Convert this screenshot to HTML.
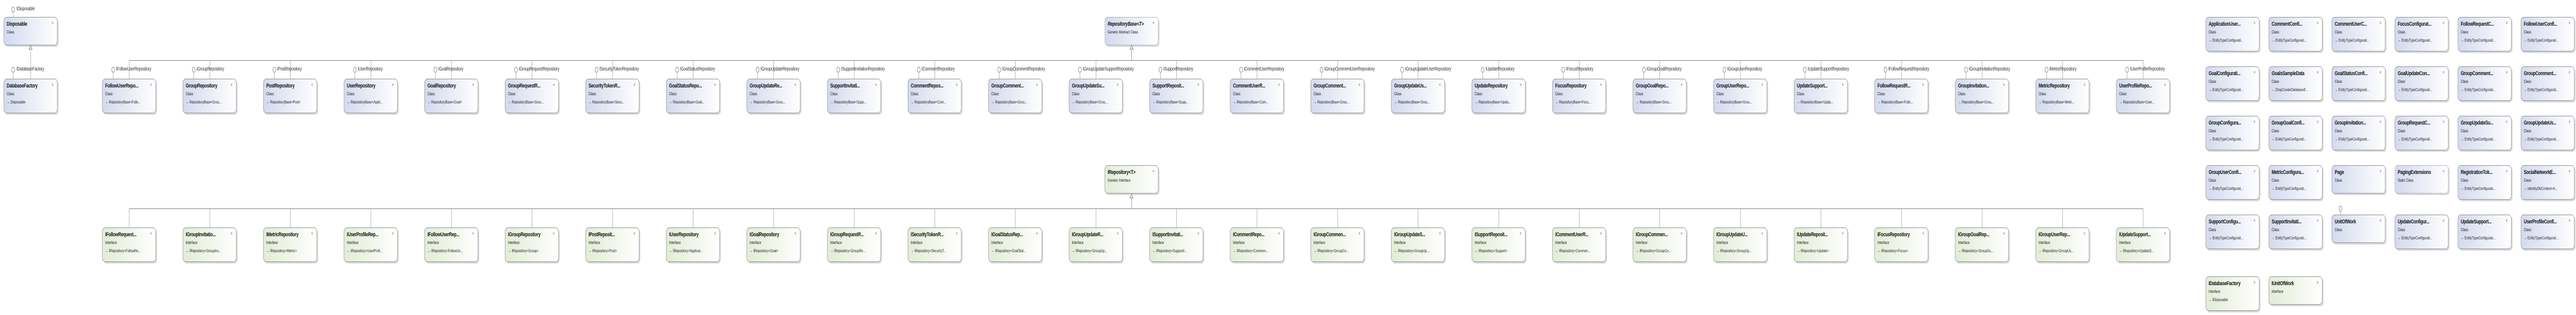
<!DOCTYPE html>
<html><head><meta charset="utf-8"><meta name="viewport" content="width=6907">
<style>
*{margin:0;padding:0}
html,body{width:100%;height:100%;overflow:hidden;background:#fff}
#w{position:absolute;left:0;top:0;width:6907px;height:612px;transform-origin:0 0;font-family:"Liberation Sans",sans-serif;color:#111;overflow:hidden}
.b{position:absolute;width:144px;height:67px;border:1px solid #8c8c8c;border-radius:8px;background:linear-gradient(to right,#d3daee,#ffffff);box-shadow:3px 3px 0 #d9d9d9;box-sizing:border-box}
.b.i{background:linear-gradient(to right,#e2ecd6,#ffffff)}
.b.h{height:55px}
.b.d{border:1.5px dashed #888}
.t{position:absolute;left:7px;top:7px;font-weight:bold;font-size:11px;letter-spacing:-0.4px;white-space:nowrap}
.s{position:absolute;left:7px;top:24px;font-size:8px;font-style:normal;white-space:nowrap}
.r{position:absolute;left:7px;top:40px;font-size:8px;white-space:nowrap;color:#222}
.c{position:absolute;right:9px;top:5px;font-size:10px;color:#777;transform:rotate(90deg);font-style:normal}
.o{position:absolute;top:130px;width:7px;height:9px;border:1px solid #777;border-radius:50%;background:#fff}
.o:after{content:"";position:absolute;left:3px;top:10px;width:1px;height:13px;background:#999}
.l{position:absolute;top:129px;font-size:10px;letter-spacing:-0.3px;color:#333;white-space:nowrap}
.v{position:absolute;width:1px;background:#999}
.hb{position:absolute;height:1px;background:#777}
.ar{position:absolute;width:0;height:0;border-left:5px solid transparent;border-right:5px solid transparent;border-bottom:9px solid #777}
.ar:after{content:"";position:absolute;left:-3px;top:2px;border-left:3px solid transparent;border-right:3px solid transparent;border-bottom:6px solid #fff}
</style></head><body><div id="w">

<div class="o" style="left:31px;top:13px"></div>
<span class="l" style="left:44px;top:12px">IDisposable</span>
<div class="b h" style="left:10px;top:33px"><b class="t">Disposable</b><i class="s">Class</i><em class="c">»</em></div>
<div class="v" style="left:82px;top:96px;height:57px"></div>
<div class="ar" style="left:77px;top:87px"></div>

<div class="o" style="left:31px"></div>
<span class="l" style="left:44px">IDatabaseFactory</span>
<div class="b" style="left:10px;top:153px"><b class="t">DatabaseFactory</b><i class="s">Class</i><span class="r">→ Disposable</span><em class="c">»</em></div>

<div class="b h d" style="left:2962px;top:33px"><b class="t" style="font-style:italic">RepositoryBase&lt;T&gt;</b><i class="s">Generic Abstract Class</i><em class="c">»</em></div>
<div class="v" style="left:3034px;top:96px;height:21px;background:#777"></div>
<div class="ar" style="left:3029px;top:87px"></div>
<div class="hb" style="left:346px;width:5401px;top:117px"></div>

<div class="b h i" style="left:2962px;top:321px"><b class="t">IRepository&lt;T&gt;</b><i class="s">Generic Interface</i><em class="c">»</em></div>
<div class="v" style="left:3034px;top:385px;height:20px;background:#777"></div>
<div class="ar" style="left:3029px;top:376px"></div>
<div class="hb" style="left:346px;width:5401px;top:405px"></div>

<div class="v" style="left:346px;top:117px;height:36px"></div><div class="o" style="left:299px"></div><span class="l" style="left:311px">IFollowUserRepository</span>
<div class="b" style="left:274px;top:153px"><b class="t">FollowUserRepo...</b><i class="s">Class</i><span class="r">→ RepositoryBase&lt;Follo...</span><em class="c">»</em></div>
<div class="v" style="left:562px;top:117px;height:36px"></div><div class="o" style="left:515px"></div><span class="l" style="left:527px">IGroupRepository</span>
<div class="b" style="left:490px;top:153px"><b class="t">GroupRepository</b><i class="s">Class</i><span class="r">→ RepositoryBase&lt;Grou...</span><em class="c">»</em></div>
<div class="v" style="left:778px;top:117px;height:36px"></div><div class="o" style="left:731px"></div><span class="l" style="left:743px">IPostRepository</span>
<div class="b" style="left:706px;top:153px"><b class="t">PostRepository</b><i class="s">Class</i><span class="r">→ RepositoryBase&lt;Post&gt;</span><em class="c">»</em></div>
<div class="v" style="left:994px;top:117px;height:36px"></div><div class="o" style="left:947px"></div><span class="l" style="left:959px">IUserRepository</span>
<div class="b" style="left:922px;top:153px"><b class="t">UserRepository</b><i class="s">Class</i><span class="r">→ RepositoryBase&lt;Appli...</span><em class="c">»</em></div>
<div class="v" style="left:1210px;top:117px;height:36px"></div><div class="o" style="left:1163px"></div><span class="l" style="left:1175px">IGoalRepository</span>
<div class="b" style="left:1138px;top:153px"><b class="t">GoalRepository</b><i class="s">Class</i><span class="r">→ RepositoryBase&lt;Goal&gt;</span><em class="c">»</em></div>
<div class="v" style="left:1426px;top:117px;height:36px"></div><div class="o" style="left:1379px"></div><span class="l" style="left:1391px">IGroupRequestRepository</span>
<div class="b" style="left:1354px;top:153px"><b class="t">GroupRequestR...</b><i class="s">Class</i><span class="r">→ RepositoryBase&lt;Grou...</span><em class="c">»</em></div>
<div class="v" style="left:1642px;top:117px;height:36px"></div><div class="o" style="left:1595px"></div><span class="l" style="left:1607px">ISecurityTokenRepository</span>
<div class="b" style="left:1570px;top:153px"><b class="t">SecurityTokenR...</b><i class="s">Class</i><span class="r">→ RepositoryBase&lt;Secu...</span><em class="c">»</em></div>
<div class="v" style="left:1858px;top:117px;height:36px"></div><div class="o" style="left:1811px"></div><span class="l" style="left:1823px">IGoalStatusRepository</span>
<div class="b" style="left:1786px;top:153px"><b class="t">GoalStatusRepo...</b><i class="s">Class</i><span class="r">→ RepositoryBase&lt;Goal...</span><em class="c">»</em></div>
<div class="v" style="left:2074px;top:117px;height:36px"></div><div class="o" style="left:2027px"></div><span class="l" style="left:2039px">IGroupUpdateRepository</span>
<div class="b" style="left:2002px;top:153px"><b class="t">GroupUpdateRe...</b><i class="s">Class</i><span class="r">→ RepositoryBase&lt;Grou...</span><em class="c">»</em></div>
<div class="v" style="left:2290px;top:117px;height:36px"></div><div class="o" style="left:2243px"></div><span class="l" style="left:2255px">ISupportInvitationRepository</span>
<div class="b" style="left:2218px;top:153px"><b class="t">SupportInvitati...</b><i class="s">Class</i><span class="r">→ RepositoryBase&lt;Supp...</span><em class="c">»</em></div>
<div class="v" style="left:2506px;top:117px;height:36px"></div><div class="o" style="left:2459px"></div><span class="l" style="left:2471px">ICommentRepository</span>
<div class="b" style="left:2434px;top:153px"><b class="t">CommentRepos...</b><i class="s">Class</i><span class="r">→ RepositoryBase&lt;Com...</span><em class="c">»</em></div>
<div class="v" style="left:2722px;top:117px;height:36px"></div><div class="o" style="left:2675px"></div><span class="l" style="left:2687px">IGroupCommentRepository</span>
<div class="b" style="left:2650px;top:153px"><b class="t">GroupComment...</b><i class="s">Class</i><span class="r">→ RepositoryBase&lt;Grou...</span><em class="c">»</em></div>
<div class="v" style="left:2938px;top:117px;height:36px"></div><div class="o" style="left:2891px"></div><span class="l" style="left:2903px">IGroupUpdateSupportRepository</span>
<div class="b" style="left:2866px;top:153px"><b class="t">GroupUpdateSu...</b><i class="s">Class</i><span class="r">→ RepositoryBase&lt;Grou...</span><em class="c">»</em></div>
<div class="v" style="left:3154px;top:117px;height:36px"></div><div class="o" style="left:3107px"></div><span class="l" style="left:3119px">ISupportRepository</span>
<div class="b" style="left:3082px;top:153px"><b class="t">SupportReposit...</b><i class="s">Class</i><span class="r">→ RepositoryBase&lt;Supp...</span><em class="c">»</em></div>
<div class="v" style="left:3370px;top:117px;height:36px"></div><div class="o" style="left:3323px"></div><span class="l" style="left:3335px">ICommentUserRepository</span>
<div class="b" style="left:3298px;top:153px"><b class="t">CommentUserR...</b><i class="s">Class</i><span class="r">→ RepositoryBase&lt;Com...</span><em class="c">»</em></div>
<div class="v" style="left:3586px;top:117px;height:36px"></div><div class="o" style="left:3539px"></div><span class="l" style="left:3551px">IGroupCommentUserRepository</span>
<div class="b" style="left:3514px;top:153px"><b class="t">GroupComment...</b><i class="s">Class</i><span class="r">→ RepositoryBase&lt;Grou...</span><em class="c">»</em></div>
<div class="v" style="left:3802px;top:117px;height:36px"></div><div class="o" style="left:3755px"></div><span class="l" style="left:3767px">IGroupUpdateUserRepository</span>
<div class="b" style="left:3730px;top:153px"><b class="t">GroupUpdateUs...</b><i class="s">Class</i><span class="r">→ RepositoryBase&lt;Grou...</span><em class="c">»</em></div>
<div class="v" style="left:4018px;top:117px;height:36px"></div><div class="o" style="left:3971px"></div><span class="l" style="left:3983px">IUpdateRepository</span>
<div class="b" style="left:3946px;top:153px"><b class="t">UpdateRepository</b><i class="s">Class</i><span class="r">→ RepositoryBase&lt;Upda...</span><em class="c">»</em></div>
<div class="v" style="left:4234px;top:117px;height:36px"></div><div class="o" style="left:4187px"></div><span class="l" style="left:4199px">IFocusRepository</span>
<div class="b" style="left:4162px;top:153px"><b class="t">FocusRepository</b><i class="s">Class</i><span class="r">→ RepositoryBase&lt;Focu...</span><em class="c">»</em></div>
<div class="v" style="left:4450px;top:117px;height:36px"></div><div class="o" style="left:4403px"></div><span class="l" style="left:4415px">IGroupGoalRepository</span>
<div class="b" style="left:4378px;top:153px"><b class="t">GroupGoalRepo...</b><i class="s">Class</i><span class="r">→ RepositoryBase&lt;Grou...</span><em class="c">»</em></div>
<div class="v" style="left:4666px;top:117px;height:36px"></div><div class="o" style="left:4619px"></div><span class="l" style="left:4631px">IGroupUserRepository</span>
<div class="b" style="left:4594px;top:153px"><b class="t">GroupUserRepo...</b><i class="s">Class</i><span class="r">→ RepositoryBase&lt;Grou...</span><em class="c">»</em></div>
<div class="v" style="left:4882px;top:117px;height:36px"></div><div class="o" style="left:4835px"></div><span class="l" style="left:4847px">IUpdateSupportRepository</span>
<div class="b" style="left:4810px;top:153px"><b class="t">UpdateSupport...</b><i class="s">Class</i><span class="r">→ RepositoryBase&lt;Upda...</span><em class="c">»</em></div>
<div class="v" style="left:5098px;top:117px;height:36px"></div><div class="o" style="left:5051px"></div><span class="l" style="left:5063px">IFollowRequestRepository</span>
<div class="b" style="left:5026px;top:153px"><b class="t">FollowRequestR...</b><i class="s">Class</i><span class="r">→ RepositoryBase&lt;Follo...</span><em class="c">»</em></div>
<div class="v" style="left:5314px;top:117px;height:36px"></div><div class="o" style="left:5267px"></div><span class="l" style="left:5279px">IGroupInvitationRepository</span>
<div class="b" style="left:5242px;top:153px"><b class="t">GroupInvitation...</b><i class="s">Class</i><span class="r">→ RepositoryBase&lt;Grou...</span><em class="c">»</em></div>
<div class="v" style="left:5530px;top:117px;height:36px"></div><div class="o" style="left:5483px"></div><span class="l" style="left:5495px">IMetricRepository</span>
<div class="b" style="left:5458px;top:153px"><b class="t">MetricRepository</b><i class="s">Class</i><span class="r">→ RepositoryBase&lt;Metri...</span><em class="c">»</em></div>
<div class="v" style="left:5746px;top:117px;height:36px"></div><div class="o" style="left:5699px"></div><span class="l" style="left:5711px">IUserProfileRepository</span>
<div class="b" style="left:5674px;top:153px"><b class="t">UserProfileRepo...</b><i class="s">Class</i><span class="r">→ RepositoryBase&lt;User...</span><em class="c">»</em></div>

<div class="v" style="left:346px;top:405px;height:37px"></div><div class="b i" style="left:274px;top:442px"><b class="t">IFollowRequest...</b><i class="s">Interface</i><span class="r">→ IRepository&lt;FollowRe...</span><em class="c">»</em></div>
<div class="v" style="left:562px;top:405px;height:37px"></div><div class="b i" style="left:490px;top:442px"><b class="t">IGroupInvitatio...</b><i class="s">Interface</i><span class="r">→ IRepository&lt;GroupInv...</span><em class="c">»</em></div>
<div class="v" style="left:778px;top:405px;height:37px"></div><div class="b i" style="left:706px;top:442px"><b class="t">IMetricRepository</b><i class="s">Interface</i><span class="r">→ IRepository&lt;Metric&gt;</span><em class="c">»</em></div>
<div class="v" style="left:994px;top:405px;height:37px"></div><div class="b i" style="left:922px;top:442px"><b class="t">IUserProfileRep...</b><i class="s">Interface</i><span class="r">→ IRepository&lt;UserProfi...</span><em class="c">»</em></div>
<div class="v" style="left:1210px;top:405px;height:37px"></div><div class="b i" style="left:1138px;top:442px"><b class="t">IFollowUserRep...</b><i class="s">Interface</i><span class="r">→ IRepository&lt;FollowUs...</span><em class="c">»</em></div>
<div class="v" style="left:1426px;top:405px;height:37px"></div><div class="b i" style="left:1354px;top:442px"><b class="t">IGroupRepository</b><i class="s">Interface</i><span class="r">→ IRepository&lt;Group&gt;</span><em class="c">»</em></div>
<div class="v" style="left:1642px;top:405px;height:37px"></div><div class="b i" style="left:1570px;top:442px"><b class="t">IPostReposit...</b><i class="s">Interface</i><span class="r">→ IRepository&lt;Post&gt;</span><em class="c">»</em></div>
<div class="v" style="left:1858px;top:405px;height:37px"></div><div class="b i" style="left:1786px;top:442px"><b class="t">IUserRepository</b><i class="s">Interface</i><span class="r">→ IRepository&lt;Applicat...</span><em class="c">»</em></div>
<div class="v" style="left:2074px;top:405px;height:37px"></div><div class="b i" style="left:2002px;top:442px"><b class="t">IGoalRepository</b><i class="s">Interface</i><span class="r">→ IRepository&lt;Goal&gt;</span><em class="c">»</em></div>
<div class="v" style="left:2290px;top:405px;height:37px"></div><div class="b i" style="left:2218px;top:442px"><b class="t">IGroupRequestR...</b><i class="s">Interface</i><span class="r">→ IRepository&lt;GroupRe...</span><em class="c">»</em></div>
<div class="v" style="left:2506px;top:405px;height:37px"></div><div class="b i" style="left:2434px;top:442px"><b class="t">ISecurityTokenR...</b><i class="s">Interface</i><span class="r">→ IRepository&lt;SecurityT...</span><em class="c">»</em></div>
<div class="v" style="left:2722px;top:405px;height:37px"></div><div class="b i" style="left:2650px;top:442px"><b class="t">IGoalStatusRep...</b><i class="s">Interface</i><span class="r">→ IRepository&lt;GoalStat...</span><em class="c">»</em></div>
<div class="v" style="left:2938px;top:405px;height:37px"></div><div class="b i" style="left:2866px;top:442px"><b class="t">IGroupUpdateR...</b><i class="s">Interface</i><span class="r">→ IRepository&lt;GroupUp...</span><em class="c">»</em></div>
<div class="v" style="left:3154px;top:405px;height:37px"></div><div class="b i" style="left:3082px;top:442px"><b class="t">ISupportInvitati...</b><i class="s">Interface</i><span class="r">→ IRepository&lt;SupportI...</span><em class="c">»</em></div>
<div class="v" style="left:3370px;top:405px;height:37px"></div><div class="b i" style="left:3298px;top:442px"><b class="t">ICommentRepo...</b><i class="s">Interface</i><span class="r">→ IRepository&lt;Commen...</span><em class="c">»</em></div>
<div class="v" style="left:3586px;top:405px;height:37px"></div><div class="b i" style="left:3514px;top:442px"><b class="t">IGroupCommen...</b><i class="s">Interface</i><span class="r">→ IRepository&lt;GroupCo...</span><em class="c">»</em></div>
<div class="v" style="left:3802px;top:405px;height:37px"></div><div class="b i" style="left:3730px;top:442px"><b class="t">IGroupUpdateS...</b><i class="s">Interface</i><span class="r">→ IRepository&lt;GroupUp...</span><em class="c">»</em></div>
<div class="v" style="left:4018px;top:405px;height:37px"></div><div class="b i" style="left:3946px;top:442px"><b class="t">ISupportReposit...</b><i class="s">Interface</i><span class="r">→ IRepository&lt;Support&gt;</span><em class="c">»</em></div>
<div class="v" style="left:4234px;top:405px;height:37px"></div><div class="b i" style="left:4162px;top:442px"><b class="t">ICommentUserR...</b><i class="s">Interface</i><span class="r">→ IRepository&lt;Commen...</span><em class="c">»</em></div>
<div class="v" style="left:4450px;top:405px;height:37px"></div><div class="b i" style="left:4378px;top:442px"><b class="t">IGroupCommen...</b><i class="s">Interface</i><span class="r">→ IRepository&lt;GroupCo...</span><em class="c">»</em></div>
<div class="v" style="left:4666px;top:405px;height:37px"></div><div class="b i" style="left:4594px;top:442px"><b class="t">IGroupUpdateU...</b><i class="s">Interface</i><span class="r">→ IRepository&lt;GroupUp...</span><em class="c">»</em></div>
<div class="v" style="left:4882px;top:405px;height:37px"></div><div class="b i" style="left:4810px;top:442px"><b class="t">IUpdateReposit...</b><i class="s">Interface</i><span class="r">→ IRepository&lt;Update&gt;</span><em class="c">»</em></div>
<div class="v" style="left:5098px;top:405px;height:37px"></div><div class="b i" style="left:5026px;top:442px"><b class="t">IFocusRepository</b><i class="s">Interface</i><span class="r">→ IRepository&lt;Focus&gt;</span><em class="c">»</em></div>
<div class="v" style="left:5314px;top:405px;height:37px"></div><div class="b i" style="left:5242px;top:442px"><b class="t">IGroupGoalRep...</b><i class="s">Interface</i><span class="r">→ IRepository&lt;GroupGo...</span><em class="c">»</em></div>
<div class="v" style="left:5530px;top:405px;height:37px"></div><div class="b i" style="left:5458px;top:442px"><b class="t">IGroupUserRep...</b><i class="s">Interface</i><span class="r">→ IRepository&lt;GroupUs...</span><em class="c">»</em></div>
<div class="v" style="left:5746px;top:405px;height:37px"></div><div class="b i" style="left:5674px;top:442px"><b class="t">IUpdateSupport...</b><i class="s">Interface</i><span class="r">→ IRepository&lt;UpdateS...</span><em class="c">»</em></div>

<div class="b" style="left:5914px;top:33px"><b class="t">ApplicationUser...</b><i class="s">Class</i><span class="r">→ EntityTypeConfigurati...</span><em class="c">»</em></div>
<div class="b" style="left:6083px;top:33px"><b class="t">CommentConfi...</b><i class="s">Class</i><span class="r">→ EntityTypeConfigurati...</span><em class="c">»</em></div>
<div class="b" style="left:6252px;top:33px"><b class="t">CommentUserC...</b><i class="s">Class</i><span class="r">→ EntityTypeConfigurati...</span><em class="c">»</em></div>
<div class="b" style="left:6421px;top:33px"><b class="t">FocusConfigurat...</b><i class="s">Class</i><span class="r">→ EntityTypeConfigurati...</span><em class="c">»</em></div>
<div class="b" style="left:6590px;top:33px"><b class="t">FollowRequestC...</b><i class="s">Class</i><span class="r">→ EntityTypeConfigurati...</span><em class="c">»</em></div>
<div class="b" style="left:6759px;top:33px"><b class="t">FollowUserConfi...</b><i class="s">Class</i><span class="r">→ EntityTypeConfigurati...</span><em class="c">»</em></div>

<div class="b" style="left:5914px;top:129px"><b class="t">GoalConfigurati...</b><i class="s">Class</i><span class="r">→ EntityTypeConfigurati...</span><em class="c">»</em></div>
<div class="b" style="left:6083px;top:129px"><b class="t">GoalsSampleData</b><i class="s">Class</i><span class="r">→ DropCreateDatabaseIf...</span><em class="c">»</em></div>
<div class="b" style="left:6252px;top:129px"><b class="t">GoalStatusConfi...</b><i class="s">Class</i><span class="r">→ EntityTypeConfigurati...</span><em class="c">»</em></div>
<div class="b" style="left:6421px;top:129px"><b class="t">GoalUpdateCon...</b><i class="s">Class</i><span class="r">→ EntityTypeConfigurati...</span><em class="c">»</em></div>
<div class="b" style="left:6590px;top:129px"><b class="t">GroupComment...</b><i class="s">Class</i><span class="r">→ EntityTypeConfigurati...</span><em class="c">»</em></div>
<div class="b" style="left:6759px;top:129px"><b class="t">GroupComment...</b><i class="s">Class</i><span class="r">→ EntityTypeConfigurati...</span><em class="c">»</em></div>

<div class="b" style="left:5914px;top:225px"><b class="t">GroupConfigura...</b><i class="s">Class</i><span class="r">→ EntityTypeConfigurati...</span><em class="c">»</em></div>
<div class="b" style="left:6083px;top:225px"><b class="t">GroupGoalConfi...</b><i class="s">Class</i><span class="r">→ EntityTypeConfigurati...</span><em class="c">»</em></div>
<div class="b" style="left:6252px;top:225px"><b class="t">GroupInvitation...</b><i class="s">Class</i><span class="r">→ EntityTypeConfigurati...</span><em class="c">»</em></div>
<div class="b" style="left:6421px;top:225px"><b class="t">GroupRequestC...</b><i class="s">Class</i><span class="r">→ EntityTypeConfigurati...</span><em class="c">»</em></div>
<div class="b" style="left:6590px;top:225px"><b class="t">GroupUpdateSu...</b><i class="s">Class</i><span class="r">→ EntityTypeConfigurati...</span><em class="c">»</em></div>
<div class="b" style="left:6759px;top:225px"><b class="t">GroupUpdateUs...</b><i class="s">Class</i><span class="r">→ EntityTypeConfigurati...</span><em class="c">»</em></div>

<div class="b" style="left:5914px;top:321px"><b class="t">GroupUserConfi...</b><i class="s">Class</i><span class="r">→ EntityTypeConfigurati...</span><em class="c">»</em></div>
<div class="b" style="left:6083px;top:321px"><b class="t">MetricConfigura...</b><i class="s">Class</i><span class="r">→ EntityTypeConfigurati...</span><em class="c">»</em></div>
<div class="b h" style="left:6252px;top:321px"><b class="t">Page</b><i class="s">Class</i><em class="c">»</em></div>
<div class="b h d" style="left:6421px;top:321px"><b class="t">PagingExtensions</b><i class="s">Static Class</i><em class="c">»</em></div>
<div class="b" style="left:6590px;top:321px"><b class="t">RegistrationTok...</b><i class="s">Class</i><span class="r">→ EntityTypeConfigurati...</span><em class="c">»</em></div>
<div class="b" style="left:6759px;top:321px"><b class="t">SocialNetworkE...</b><i class="s">Class</i><span class="r">→ IdentityDbContext&lt;A...</span><em class="c">»</em></div>

<div class="b" style="left:5914px;top:417px"><b class="t">SupportConfigu...</b><i class="s">Class</i><span class="r">→ EntityTypeConfigurati...</span><em class="c">»</em></div>
<div class="b" style="left:6083px;top:417px"><b class="t">SupportInvitati...</b><i class="s">Class</i><span class="r">→ EntityTypeConfigurati...</span><em class="c">»</em></div>
<div class="o" style="left:6271px;top:400px"></div>
<div class="b h" style="left:6252px;top:417px"><b class="t">UnitOfWork</b><i class="s">Class</i><em class="c">»</em></div>
<div class="b" style="left:6421px;top:417px"><b class="t">UpdateConfigur...</b><i class="s">Class</i><span class="r">→ EntityTypeConfigurati...</span><em class="c">»</em></div>
<div class="b" style="left:6590px;top:417px"><b class="t">UpdateSupport...</b><i class="s">Class</i><span class="r">→ EntityTypeConfigurati...</span><em class="c">»</em></div>
<div class="b" style="left:6759px;top:417px"><b class="t">UserProfileConfi...</b><i class="s">Class</i><span class="r">→ EntityTypeConfigurati...</span><em class="c">»</em></div>

<div class="b i" style="left:5914px;top:537px"><b class="t">IDatabaseFactory</b><i class="s">Interface</i><span class="r">→ IDisposable</span><em class="c">»</em></div>
<div class="b h i" style="left:6083px;top:537px"><b class="t">IUnitOfWork</b><i class="s">Interface</i><em class="c">»</em></div>

</div>
<script>
(function(){var w=document.getElementById('w');function f(){var sx=(document.documentElement.clientWidth||window.innerWidth)/6907,sy=(document.documentElement.clientHeight||window.innerHeight)/612;if(sx>0&&sy>0)w.style.transform='scale('+sx+','+sy+')';}f();window.addEventListener('resize',f);})();
</script>
</body></html>
